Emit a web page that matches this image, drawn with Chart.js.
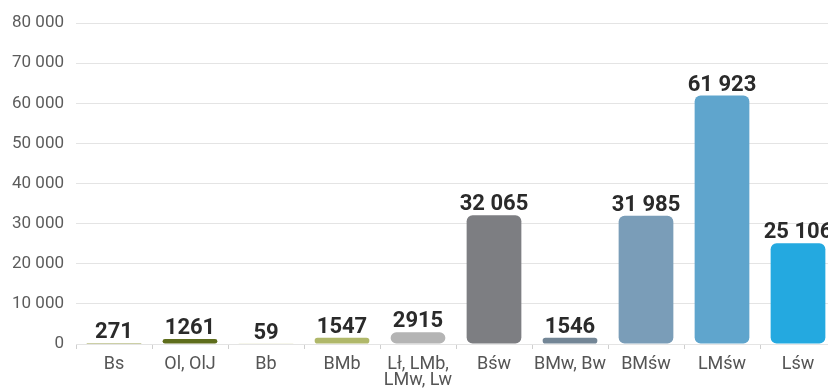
<!DOCTYPE html>
<html>
<head>
<meta charset="utf-8">
<script src="https://cdn.jsdelivr.net/npm/chart.js@4.4.1/dist/chart.umd.min.js"></script>
<style>
  html, body { margin: 0; padding: 0; background: #ffffff; overflow: hidden; }
  #wrap { width: 840px; height: 390px; position: relative; }
</style>
</head>
<body>
<div id="wrap"><canvas id="chart"></canvas></div>
<script>
// Habitat types and their area totals
const categories = ["Bs", "Ol, OlJ", "Bb", "BMb", ["Lł, LMb,", "LMw, Lw"], "Bśw", "BMw, Bw", "BMśw", "LMśw", "Lśw"];
const areaValues = [271, 1261, 59, 1547, 2915, 32065, 1546, 31985, 61923, 25106];
const barColors = ["#99a04e", "#5e6d1c", "#dadcae", "#b0b86a", "#b4b4b4", "#7d7e82", "#738696", "#7a9db8", "#5fa5cd", "#24a9e0"];
const yTicks = [0, 10000, 20000, 30000, 40000, 50000, 60000, 70000, 80000];

// Thousands grouped with a space from five digits up
function fmt(v) {
  if (v < 10000) return String(v);
  return String(v).replace(/\B(?=(\d{3})+(?!\d))/g, " ");
}

const FONT = "Roboto, 'Liberation Sans', sans-serif";

const valueLabels = {
  id: "valueLabels",
  afterDatasetsDraw(chart) {
    const ctx = chart.ctx;
    const meta = chart.getDatasetMeta(0);
    ctx.save();
    ctx.font = "bold 22px " + FONT;
    ctx.fillStyle = "#2a2a2a";
    ctx.textAlign = "center";
    ctx.textBaseline = "alphabetic";
    meta.data.forEach((bar, i) => {
      ctx.fillText(fmt(areaValues[i]), bar.x, Math.min(bar.y, bar.base) - 5);
    });
    ctx.restore();
  }
};

new Chart(document.getElementById("chart"), {
  type: "bar",
  data: {
    labels: categories,
    datasets: [{
      data: areaValues,
      backgroundColor: barColors,
      borderRadius: 6,
      borderSkipped: false,
      categoryPercentage: 0.72,
      barPercentage: 1
    }]
  },
  options: {
    responsive: true,
    maintainAspectRatio: false,
    animation: false,
    layout: { padding: { top: 23, right: 4, bottom: 0, left: 0 } },
    plugins: { legend: { display: false }, tooltip: { enabled: false } },
    scales: {
      x: {
        grid: { offset: true, drawOnChartArea: false, color: "#cfcfcf", tickLength: 5 },
        border: { display: false },
        afterFit: s => { s.height = 46; },
        ticks: {
          color: "#555555",
          font: { family: FONT, size: 18, lineHeight: 0.88 },
          padding: 8,
          maxRotation: 0,
          autoSkip: false
        }
      },
      y: {
        min: 0,
        max: 80000,
        afterFit: s => { s.width = 76; },
        afterBuildTicks: s => { s.ticks = yTicks.map(v => ({ value: v })); },
        grid: { color: "#e4e4e4", drawTicks: false },
        border: { display: false },
        ticks: {
          color: "#5c5c5c",
          font: { family: FONT, size: 17 },
          padding: 12,
          callback: v => fmt(v)
        }
      }
    }
  },
  plugins: [valueLabels]
});
</script>
</body>
</html>
